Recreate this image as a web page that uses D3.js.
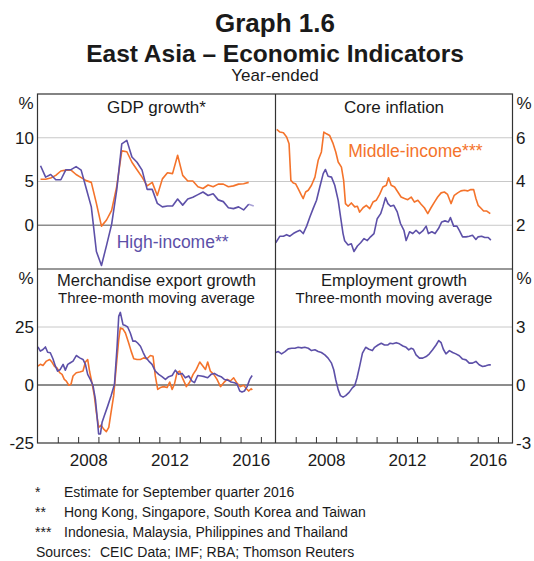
<!DOCTYPE html>
<html lang="en">
<head>
<meta charset="UTF-8">
<title>Graph 1.6 East Asia – Economic Indicators</title>
<script src="https://d3js.org/d3.v7.min.js"></script>
<style>
  body { margin: 0; background: #fff; font-family: "Liberation Sans", Arial, sans-serif; }
  svg text { fill: #1a1a1a; }
  .tick text { font-size: 17px; font-family: "Liberation Sans", Arial, sans-serif; fill: #1a1a1a; }
</style>
</head>
<body>
<svg id="chart" width="534" height="561"></svg>
<script>
// ---- data ----
const xDomain = [2006, 2017.72];
const yearLabels = [2008, 2012, 2016];

// GDP growth, quarterly from 2006 Q1 (per cent)
const gdpStart = 2006.15;
const gdpHigh = [6.8, 5.5, 5.8, 5.2, 5.2, 6.35, 6.35, 6.7, 6.3, 4.2, 2.1, -3.0, -4.6, -2.3, 0.1, 4.0,
  9.3, 9.7, 7.8, 7.2, 6.3, 4.1, 4.1, 2.5, 2.1, 2.2, 2.2, 3.0, 2.3, 3.0, 3.2, 3.5, 3.8, 3.4, 3.6, 2.9,
  2.7, 2.0, 1.9, 2.1, 1.75, 2.4, 2.2];
const gdpMiddle = [5.25, 5.25, 5.4, 5.7, 6.2, 6.3, 6.3, 5.8, 5.45, 5.1, 4.9, 2.5, -0.1, 0.6, 1.7, 4.4,
  8.5, 8.4, 7.2, 6.35, 5.5, 4.5, 4.9, 3.4, 5.3, 6.0, 5.9, 8.0, 5.7, 5.05, 5.05, 4.4, 4.2, 4.6, 4.4, 4.7,
  4.7, 4.4, 4.5, 4.7, 4.75, 4.9];
const gdpEstimates = 1; // last high-income quarter is an estimate

// Core inflation [year, per cent]
const coreMiddle = [[2006.06,6.38],[2006.22,6.26],[2006.39,6.23],[2006.55,6.03],[2006.67,5.73],[2006.76,4.05],
  [2006.88,3.93],[2006.99,3.9],[2007.12,3.67],[2007.26,3.41],[2007.37,3.22],[2007.49,3.52],[2007.62,3.6],
  [2007.78,3.83],[2007.95,4.2],[2008.11,4.97],[2008.27,5.35],[2008.39,6.26],[2008.52,6.18],[2008.68,6.1],
  [2008.85,5.73],[2008.98,5.35],[2009.10,4.89],[2009.26,4.66],[2009.37,4.05],[2009.46,2.99],[2009.59,2.87],
  [2009.75,3.02],[2009.92,2.84],[2010.05,2.87],[2010.16,2.6],[2010.33,2.8],[2010.49,2.91],[2010.66,2.76],
  [2010.82,3.06],[2010.98,3.14],[2011.15,3.41],[2011.31,3.75],[2011.48,3.83],[2011.59,4.17],[2011.72,3.83],
  [2011.89,3.75],[2012.05,3.52],[2012.21,3.29],[2012.38,3.22],[2012.54,3.17],[2012.71,3.29],[2012.87,3.06],
  [2013.04,3.14],[2013.20,2.96],[2013.36,2.8],[2013.53,2.53],[2013.69,2.8],[2013.86,3.06],[2014.02,3.29],
  [2014.19,3.48],[2014.35,3.52],[2014.51,3.41],[2014.68,2.99],[2014.84,3.37],[2015.01,3.48],[2015.17,3.57],
  [2015.34,3.6],[2015.50,3.57],[2015.66,3.63],[2015.80,3.63],[2015.91,3.22],[2016.02,2.91],[2016.14,2.8],
  [2016.29,2.65],[2016.45,2.65],[2016.62,2.53]];
const coreHigh = [[2006.01,1.2],[2006.22,1.5],[2006.39,1.5],[2006.55,1.57],[2006.71,1.5],[2006.88,1.62],
  [2007.04,1.7],[2007.21,1.77],[2007.37,1.62],[2007.54,1.96],[2007.70,2.38],[2007.86,2.76],[2008.03,3.14],
  [2008.19,3.75],[2008.36,4.36],[2008.47,4.55],[2008.60,4.24],[2008.77,4.2],[2008.93,3.83],[2009.10,3.14],
  [2009.23,2.3],[2009.34,1.62],[2009.42,1.29],[2009.59,1.1],[2009.75,1.15],[2009.88,0.8],[2010.05,1.05],
  [2010.21,1.2],[2010.38,1.39],[2010.54,1.3],[2010.70,1.47],[2010.87,1.62],[2011.03,2.3],[2011.20,2.53],
  [2011.31,2.84],[2011.44,3.26],[2011.56,2.99],[2011.69,2.87],[2011.85,2.91],[2012.02,2.61],[2012.18,2.08],
  [2012.35,1.77],[2012.46,1.3],[2012.63,1.7],[2012.79,1.62],[2012.95,1.77],[2013.12,1.62],[2013.28,1.74],
  [2013.45,1.96],[2013.56,1.62],[2013.73,1.7],[2013.89,1.62],[2014.06,1.85],[2014.22,2.15],[2014.38,2.2],
  [2014.55,2.15],[2014.65,2.35],[2014.81,1.96],[2014.97,1.96],[2015.09,1.77],[2015.25,1.47],[2015.42,1.47],
  [2015.58,1.5],[2015.74,1.54],[2015.91,1.35],[2016.02,1.47],[2016.19,1.5],[2016.35,1.44],[2016.52,1.44],
  [2016.65,1.32]];

// Merchandise export growth, three-month moving average [year, per cent]
const exportHigh = [[2006.02,16.4],[2006.14,14.6],[2006.27,15.3],[2006.39,16.4],[2006.50,14.1],[2006.63,13.9],
  [2006.76,11.3],[2006.88,8.1],[2006.99,6.0],[2007.12,6.7],[2007.26,8.9],[2007.37,6.4],[2007.49,8.9],
  [2007.62,9.6],[2007.75,10.3],[2007.91,12.7],[2008.08,11.7],[2008.24,11.0],[2008.36,8.9],[2008.47,4.6],
  [2008.60,2.4],[2008.73,-0.1],[2008.85,-6.1],[2008.93,-13.3],[2009.01,-21.1],[2009.10,-21.1],[2009.18,-16.1],
  [2009.29,-13.3],[2009.46,-9.0],[2009.62,-4.7],[2009.79,0.3],[2009.92,16.7],[2010.00,29.6],[2010.08,31.3],
  [2010.21,26],[2010.33,25.6],[2010.44,25],[2010.57,22.4],[2010.70,18.9],[2010.82,18.9],[2010.93,18.1],
  [2011.07,16.7],[2011.20,14.1],[2011.31,12.1],[2011.48,10.3],[2011.64,8.9],[2011.80,6.0],[2011.97,4.6],
  [2012.13,3.6],[2012.30,2.4],[2012.46,3.6],[2012.63,4.1],[2012.79,6.4],[2012.95,4.6],[2013.12,5.0],
  [2013.28,3.1],[2013.45,3.9],[2013.61,1.7],[2013.73,1.0],[2013.89,4.1],[2014.06,3.9],[2014.22,3.6],
  [2014.38,3.1],[2014.55,4.6],[2014.71,5.0],[2014.88,4.1],[2015.04,3.6],[2015.20,2.4],[2015.37,2.1],
  [2015.53,1.3],[2015.70,1.0],[2015.83,0.3],[2015.96,-2.6],[2016.07,-3.0],[2016.19,-2.6],[2016.32,-0.7],
  [2016.45,2.4],[2016.57,4.1]];
const exportMiddle = [[2006.02,8.1],[2006.14,8.9],[2006.27,8.4],[2006.44,10.3],[2006.60,11.0],[2006.71,9.9],
  [2006.83,8.1],[2006.96,7.4],[2007.09,5.3],[2007.21,4.6],[2007.32,2.4],[2007.42,1.7],[2007.54,-0.1],
  [2007.65,0.3],[2007.75,3.9],[2007.91,5.3],[2008.08,5.6],[2008.24,6.0],[2008.36,9.9],[2008.47,11.0],
  [2008.57,5.6],[2008.68,1.0],[2008.80,-4.7],[2008.90,-11.9],[2009.01,-18.3],[2009.13,-17.3],[2009.26,-19],
  [2009.39,-20.1],[2009.51,-18.3],[2009.62,-11.9],[2009.75,-4.7],[2009.88,8.1],[2010.00,19.6],[2010.08,24.6],
  [2010.21,24.1],[2010.33,22.4],[2010.49,18.1],[2010.61,14.6],[2010.74,11.3],[2010.90,11.0],[2011.07,11.0],
  [2011.23,11.7],[2011.39,11.3],[2011.56,12.7],[2011.69,12.4],[2011.80,3.9],[2011.92,-1.9],[2012.05,-1.1],
  [2012.21,-0.7],[2012.38,-1.1],[2012.51,1.3],[2012.63,-1.9],[2012.74,0.3],[2012.87,5.3],[2013.00,6.0],
  [2013.17,2.4],[2013.33,-0.7],[2013.50,1.3],[2013.66,4.6],[2013.82,6.7],[2013.99,9.9],[2014.15,8.1],
  [2014.27,6.7],[2014.38,9.9],[2014.51,6.0],[2014.68,4.6],[2014.84,2.4],[2015.01,-0.7],[2015.17,1.0],
  [2015.34,2.4],[2015.50,1.7],[2015.66,3.1],[2015.83,0.7],[2015.99,-0.7],[2016.15,-0.1],[2016.29,-1.6],
  [2016.40,-2.6],[2016.52,-1.6],[2016.58,-2.1]];

// Employment growth, three-month moving average [year, per cent]
const employment = [[2006.01,1.68],[2006.14,1.73],[2006.30,1.61],[2006.47,1.73],[2006.63,1.87],[2006.80,1.9],
  [2006.96,1.9],[2007.12,1.95],[2007.29,1.92],[2007.45,1.95],[2007.62,1.9],[2007.78,1.78],[2007.95,1.82],
  [2008.11,1.73],[2008.27,1.68],[2008.44,1.56],[2008.60,1.39],[2008.77,1.13],[2008.88,0.79],[2008.98,0.27],
  [2009.10,-0.24],[2009.21,-0.55],[2009.34,-0.63],[2009.47,-0.55],[2009.64,-0.38],[2009.80,-0.15],[2009.92,-0.03],
  [2010.03,0.36],[2010.16,0.96],[2010.30,1.65],[2010.46,1.95],[2010.62,1.85],[2010.79,1.78],[2010.90,1.95],
  [2011.07,2.07],[2011.23,2.16],[2011.39,2.07],[2011.56,2.07],[2011.67,2.16],[2011.80,2.13],[2011.97,2.19],
  [2012.13,2.13],[2012.30,2.02],[2012.46,1.95],[2012.59,1.82],[2012.71,1.9],[2012.82,1.85],[2012.95,1.56],
  [2013.12,1.39],[2013.28,1.39],[2013.45,1.47],[2013.61,1.61],[2013.77,1.82],[2013.94,2.07],[2014.07,2.3],
  [2014.19,2.19],[2014.30,1.85],[2014.43,1.61],[2014.60,1.78],[2014.76,1.68],[2014.92,1.61],[2015.09,1.51],
  [2015.25,1.34],[2015.42,1.3],[2015.58,1.13],[2015.74,1.13],[2015.91,1.22],[2016.07,1.05],[2016.24,0.96],
  [2016.40,0.99],[2016.57,1.05],[2016.65,1.03]];

const footnotes = [
  ["*", "Estimate for September quarter 2016"],
  ["**", "Hong Kong, Singapore, South Korea and Taiwan"],
  ["***", "Indonesia, Malaysia, Philippines and Thailand"]
];
const sources = "CEIC Data; IMF; RBA; Thomson Reuters";

// ---- layout ----
const fLeft = 37.5, fMid = 275.5, fRight = 512.5, fTop = 94, fSplit = 269, fBottom = 443;
const orange = "#f4732b", purple = "#5d50a8", purpleLight = "#a8a1d6";
const gridColor = "#c8c8c8";

const svg = d3.select("#chart");

const xLeft = d3.scaleLinear().domain(xDomain).range([fLeft, fMid]);
const xRight = d3.scaleLinear().domain(xDomain).range([fMid, fRight]);
const yGdp = d3.scaleLinear().domain([-5, 15]).range([fSplit, fTop]);
const yCore = d3.scaleLinear().domain([0, 8]).range([fSplit, fTop]);
const yExport = d3.scaleLinear().domain([-25, 50]).range([fBottom, fSplit]);
const yEmp = d3.scaleLinear().domain([-3, 6]).range([fBottom, fSplit]);

const gdpHighPts = gdpHigh.map((v, i) => [gdpStart + i * 0.25, v]);
const gdpMiddlePts = gdpMiddle.map((v, i) => [gdpStart + i * 0.25, v]);
const cut = gdpHighPts.length - gdpEstimates;

function panel(x, y, opts) {
  const g = svg.append("g");
  const [x0, x1] = x.range();
  const yt = y.range()[1];

  (opts.grid || []).forEach(v => {
    g.append("line").attr("x1", x0).attr("x2", x1).attr("y1", y(v)).attr("y2", y(v))
      .attr("stroke", gridColor).attr("stroke-width", 1);
  });
  g.append("line").attr("x1", x0).attr("x2", x1).attr("y1", y(0)).attr("y2", y(0))
    .attr("stroke", opts.zeroColor || "#1a1a1a").attr("stroke-width", opts.zeroWidth || 1);

  const line = d3.line().x(d => x(d[0])).y(d => y(d[1]));
  opts.series.forEach(s => {
    g.append("path").datum(s.data).attr("d", line)
      .attr("fill", "none").attr("stroke", s.color).attr("stroke-width", 1.6)
      .attr("stroke-linejoin", "round");
  });

  const cx = (x0 + x1) / 2;
  if (opts.sub) {
    g.append("text").attr("x", cx).attr("y", yt + 16.5)
      .attr("text-anchor", "middle").attr("font-size", 16.5).text(opts.title);
    g.append("text").attr("x", cx).attr("y", yt + 33.5)
      .attr("text-anchor", "middle").attr("font-size", 15).text(opts.sub);
  } else {
    g.append("text").attr("x", cx).attr("y", yt + 18.5)
      .attr("text-anchor", "middle").attr("font-size", 17).text(opts.title);
  }
}

// GDP growth
panel(xLeft, yGdp, {
  grid: [5, 10], zeroColor: "#8c8c8c", zeroWidth: 1.6, title: "GDP growth*",
  series: [
    { data: gdpMiddlePts, color: orange },
    { data: gdpHighPts.slice(cut - 1), color: purpleLight },
    { data: gdpHighPts.slice(0, cut), color: purple }
  ]
});
// Core inflation
panel(xRight, yCore, {
  grid: [2, 4, 6], zeroColor: "none", title: "Core inflation",
  series: [
    { data: coreMiddle, color: orange },
    { data: coreHigh, color: purple }
  ]
});
// Merchandise exports
panel(xLeft, yExport, {
  grid: [25], title: "Merchandise export growth", sub: "Three-month moving average",
  series: [
    { data: exportMiddle, color: orange },
    { data: exportHigh, color: purple }
  ]
});
// Employment
panel(xRight, yEmp, {
  grid: [3], title: "Employment growth", sub: "Three-month moving average",
  series: [{ data: employment, color: purple }]
});

// series labels
svg.append("text").attr("x", xLeft(2009.9)).attr("y", yGdp(-2.6))
  .attr("font-size", 17.5).style("fill", purple).text("High-income**");
svg.append("text").attr("x", xRight(2009.6)).attr("y", yCore(5.1))
  .attr("font-size", 17.5).style("fill", orange).text("Middle-income***");

// y axes
function yAxis(axis, tx, values) {
  const g = svg.append("g").attr("transform", `translate(${tx},0)`)
    .call(axis.tickValues(values).tickSize(0).tickPadding(3.5).tickFormat(d => String(d)));
  g.select(".domain").remove();
}
yAxis(d3.axisLeft(yGdp), fLeft, [0, 5, 10]);
yAxis(d3.axisRight(yCore), fRight, [2, 4, 6]);
yAxis(d3.axisLeft(yExport), fLeft, [-25, 0, 25]);
yAxis(d3.axisRight(yEmp), fRight, [-3, 0, 3]);

[fTop, fSplit].forEach(t => {
  svg.append("text").attr("x", fLeft - 4).attr("y", t + 14.5).attr("text-anchor", "end")
    .attr("font-size", 17).text("%");
  svg.append("text").attr("x", fRight + 4).attr("y", t + 14.5)
    .attr("font-size", 17).text("%");
});

// x axes
[xLeft, xRight].forEach(x => {
  const ticks = svg.append("g").attr("transform", `translate(0,${fBottom})`)
    .call(d3.axisBottom(x).tickValues(d3.range(2007, 2018)).tickSize(-6).tickFormat(""));
  ticks.select(".domain").remove();
  ticks.selectAll(".tick line").attr("stroke", "#333");
  const labels = svg.append("g").attr("transform", `translate(0,${fBottom})`)
    .call(d3.axisBottom(x).tickValues(yearLabels.map(yr => yr + 0.5)).tickSize(0).tickPadding(11)
      .tickFormat(d => Math.floor(d)));
  labels.select(".domain").remove();
});

// frame
svg.append("rect").attr("x", fLeft).attr("y", fTop).attr("width", fRight - fLeft).attr("height", fBottom - fTop)
  .attr("fill", "none").attr("stroke", "#333").attr("stroke-width", 1.2);
svg.append("line").attr("x1", fMid).attr("x2", fMid).attr("y1", fTop).attr("y2", fBottom)
  .attr("stroke", "#333").attr("stroke-width", 1.2);
svg.append("line").attr("x1", fLeft).attr("x2", fRight).attr("y1", fSplit).attr("y2", fSplit)
  .attr("stroke", "#333").attr("stroke-width", 1.2);

// titles
const cx = (fLeft + fRight) / 2;
svg.append("text").attr("x", cx).attr("y", 32).attr("text-anchor", "middle")
  .attr("font-size", 26).attr("font-weight", "bold").text("Graph 1.6");
svg.append("text").attr("x", cx).attr("y", 62).attr("text-anchor", "middle")
  .attr("font-size", 24.5).attr("font-weight", "bold").text("East Asia – Economic Indicators");
svg.append("text").attr("x", cx).attr("y", 81).attr("text-anchor", "middle")
  .attr("font-size", 17).text("Year-ended");

// footnotes
footnotes.forEach((f, i) => {
  const yy = 497 + i * 20;
  svg.append("text").attr("x", 35).attr("y", yy).attr("font-size", 14).text(f[0]);
  svg.append("text").attr("x", 64).attr("y", yy).attr("font-size", 14).text(f[1]);
});
svg.append("text").attr("x", 36).attr("y", 557).attr("font-size", 14).text("Sources:");
svg.append("text").attr("x", 100).attr("y", 557).attr("font-size", 14).text(sources);
</script>
</body>
</html>
